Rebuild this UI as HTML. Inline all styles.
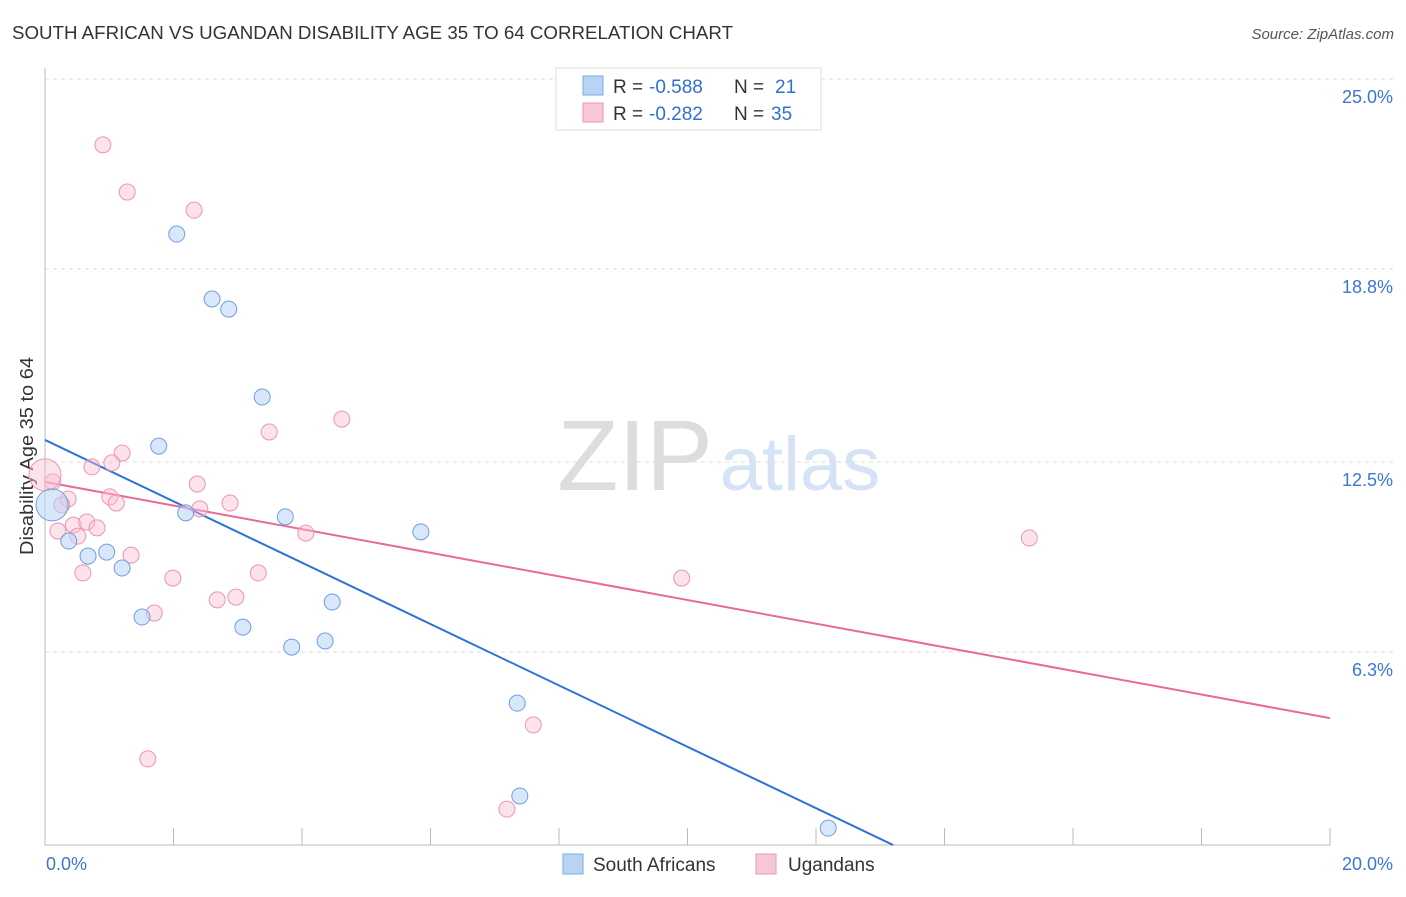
<!DOCTYPE html>
<html><head><meta charset="utf-8"><style>
body{margin:0;background:#fff;font-family:"Liberation Sans",sans-serif}
svg text{font-family:"Liberation Sans",sans-serif}
</style></head><body>
<svg width="1406" height="892" xmlns="http://www.w3.org/2000/svg" id="chart">
<text x="12" y="39" font-size="18" fill="#333" textLength="721" lengthAdjust="spacingAndGlyphs">SOUTH AFRICAN VS UGANDAN DISABILITY AGE 35 TO 64 CORRELATION CHART</text>
<text x="1394" y="39" font-size="15" fill="#555" text-anchor="end" font-style="italic">Source: ZipAtlas.com</text>
<text x="33" y="456" font-size="18" fill="#333" text-anchor="middle" textLength="198" lengthAdjust="spacingAndGlyphs" transform="rotate(-90 33 456)">Disability Age 35 to 64</text>
<g><text x="635" y="490" font-size="100" fill="#ddd" text-anchor="middle" font-family="Liberation Serif">ZIP</text><text x="800" y="490" font-size="76" fill="#d5e3f5" text-anchor="middle">atlas</text></g>
<g id="grid"></g><g id="axes"></g><g id="trend"></g><g id="pts"></g>
<g>
<rect x="556" y="68" width="265" height="62" fill="#fff" stroke="#ddd"/>
<rect x="583" y="76" width="20" height="19" fill="#b9d3f5" stroke="#7aa8e6"/>
<rect x="583" y="103" width="20" height="19" fill="#f9c6d6" stroke="#ee94b3"/>
<text x="613" y="93" font-size="19" fill="#333">R =</text>
<text x="649" y="93" font-size="19" fill="#3070d0">-0.588</text>
<text x="734" y="93" font-size="19" fill="#333">N =</text>
<text x="775" y="93" font-size="19" fill="#3070d0">21</text>
<text x="613" y="120" font-size="19" fill="#333">R =</text>
<text x="649" y="120" font-size="19" fill="#3070d0">-0.282</text>
<text x="734" y="120" font-size="19" fill="#333">N =</text>
<text x="771" y="120" font-size="19" fill="#3070d0">35</text>
</g>
<g>
<rect x="563" y="854" width="20" height="20" fill="#b9d3f5" stroke="#7aa8e6"/>
<text x="593" y="871" font-size="19" fill="#333">South Africans</text>
<rect x="756" y="854" width="20" height="20" fill="#f9c6d6" stroke="#ee94b3"/>
<text x="788" y="871" font-size="19" fill="#333">Ugandans</text>
</g>
</svg>
<script>
const yTicks=[25.0,18.8,12.5,6.3];
const yTickLabels=["25.0%","18.8%","12.5%","6.3%"];
const xLabels=["0.0%","20.0%"];
const blueX=[2.05,2.60,2.86,3.38,1.77,2.19,3.74,5.85,0.37,0.67,0.96,1.20,4.47,1.51,3.08,3.84,4.36,7.35,7.39,12.19,0.11];
const blueY=[19.94,17.82,17.49,14.62,13.02,10.84,10.71,10.22,9.92,9.43,9.56,9.04,7.93,7.44,7.11,6.46,6.66,4.63,1.60,0.55,11.10];
const pinkX=[0.90,1.28,2.32,4.62,3.49,1.20,1.04,0.73,2.37,0.12,0.36,0.26,1.01,1.11,2.88,2.41,0.44,0.65,0.81,0.20,0.51,4.06,1.34,15.32,0.59,1.99,3.32,9.91,1.70,2.68,2.97,1.60,7.60,7.19,0.0];
const pinkY=[22.85,21.31,20.72,13.90,13.48,12.79,12.47,12.34,11.78,11.85,11.29,11.10,11.36,11.16,11.16,10.97,10.44,10.54,10.35,10.25,10.08,10.18,9.46,10.02,8.88,8.71,8.88,8.71,7.57,8.00,8.09,2.81,3.92,1.17,12.08];
const blueTrend=[13.22,-6.81];   // values at x=0 and x=20
const pinkTrend=[11.85,4.14];
const NS="http://www.w3.org/2000/svg";
const xs=v=>45+v*64.25, ys=v=>845-v*30.64;
function mk(p,t,a){const e=document.createElementNS(NS,t);for(const k in a)e.setAttribute(k,a[k]);document.getElementById(p).appendChild(e);return e;}
yTicks.forEach((t,i)=>{
 const l=mk('grid','line',{x1:45,x2:1394,y1:ys(t),y2:ys(t),stroke:'#ddd','stroke-dasharray':'4,4'});
 
 
 const tx=mk('grid','text',{x:1393,y:ys(t)+24,'font-size':18,fill:'#3a78d0','text-anchor':'end'});tx.textContent=yTickLabels[i];
 
 
});
const ax=mk('axes','path',{d:'M45,68V845H1330',stroke:'#bbb',fill:'none'});


for(let i=0;i<=10;i++){const t=mk('axes','line',{x1:xs(i*2),x2:xs(i*2),y1:828,y2:845,stroke:'#bbb'});
 
 }
[[0,46,'start'],[20,1393,'end']].forEach((d,i)=>{const t=mk('axes','text',{x:d[1],y:870,'font-size':18,fill:'#3a78d0','text-anchor':d[2]});t.textContent=xLabels[i];
 
 });
const bx2=blueTrend[0]/(blueTrend[0]-blueTrend[1])*20;
const bl=mk('trend','line',{x1:xs(0),y1:ys(blueTrend[0]),x2:xs(bx2),y2:ys(0),stroke:'#2f72d8','stroke-width':2});


const pl=mk('trend','line',{x1:xs(0),y1:ys(pinkTrend[0]),x2:xs(20),y2:ys(pinkTrend[1]),stroke:'#e8699a','stroke-width':2});


pinkX.forEach((x,i)=>{const c=mk('pts','circle',{cx:xs(x),cy:ys(pinkY[i]),r:i==pinkX.length-1?16:8,fill:'rgba(249,190,210,0.45)',stroke:'#ee94b3','stroke-width':1});
 
 });
blueX.forEach((x,i)=>{const c=mk('pts','circle',{cx:xs(x),cy:ys(blueY[i]),r:i==blueX.length-1?16:8,fill:'rgba(185,211,245,0.55)',stroke:'#6f9fe0','stroke-width':1});
 
 });
</script>
</body></html>
